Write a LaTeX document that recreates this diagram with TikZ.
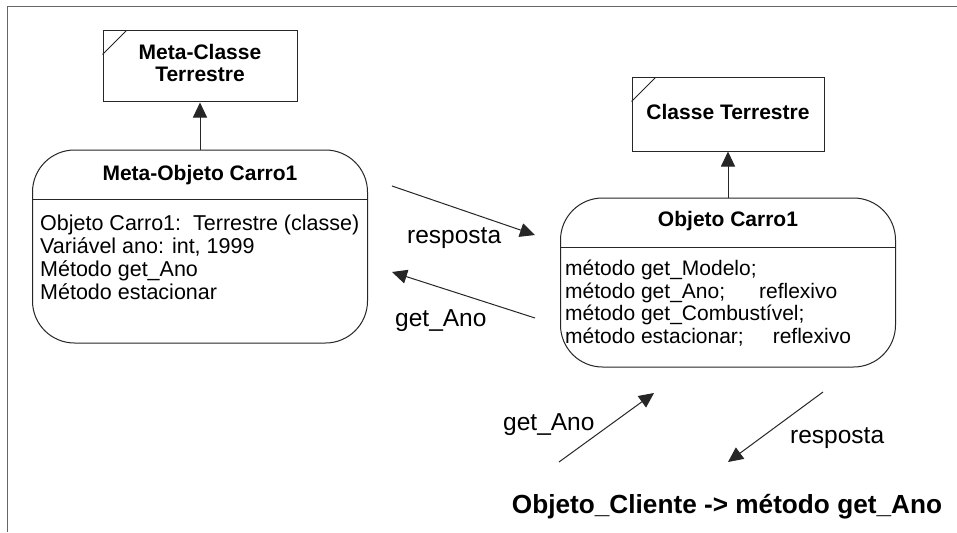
\documentclass[tikz,border=0pt]{standalone}
\usepackage{fontspec}
\setmainfont{Liberation Sans}
\usetikzlibrary{arrows.meta}

\begin{document}
\begin{tikzpicture}[x=1pt,y=-1pt,
  line/.style={draw=black!85, line width=1pt},
  classbox/.style={line, rectangle, inner sep=0pt},
  objbox/.style={line, rectangle, rounded corners=42pt, inner sep=0pt},
  tip/.style={line, -{Triangle[length=15pt,width=14pt]}},
  body/.style={font=\fontsize{21.5}{23}\selectfont, anchor=base west, inner sep=0pt},
  rbody/.style={font=\fontsize{21}{23}\selectfont, anchor=base west, inner sep=0pt},
  title/.style={font=\bfseries\fontsize{21}{23}\selectfont, anchor=base, inner sep=0pt},
  lbl/.style={font=\fontsize{24.5}{27}\selectfont, anchor=base west, inner sep=0pt},
  big/.style={font=\bfseries\fontsize{26.2}{30}\selectfont, anchor=base, inner sep=0pt},
]
\useasboundingbox (0,0) rectangle (957,532);
\fill[white] (0,0) rectangle (957,532);

% outer frame
\draw[draw=black!60, line width=1.5pt] (7.5,532) -- (7.5,6.5) -- (957,6.5);

% class boxes
\node[classbox, minimum width=194pt, minimum height=71pt] (metaclasse) at (200,66.5) {};
\draw[line] ([yshift=-24pt]metaclasse.north west) -- ([xshift=24pt]metaclasse.north west);
\node[title] (mct1) at (200,60) {Meta-Classe};
\node[title] (mct2) at (200,82) {Terrestre};

\node[classbox, minimum width=192pt, minimum height=73pt] (classe) at (728,114.5) {};
\draw[line] ([yshift=-24pt]classe.north west) -- ([xshift=24pt]classe.north west);
\node[title] (ct) at (728,120) {Classe Terrestre};

% object boxes
\node[objbox, minimum width=335pt, minimum height=193pt] (metaobj) at (200,246.5) {};
\draw[line] (metaobj.west |- 0,199) -- (metaobj.east |- 0,199);
\node[title] (mot) at (200,180) {Meta-Objeto Carro1};
\node[body] (mo1) at (40,230) {Objeto Carro1:\ \ Terrestre (classe)};
\node[body] (mo2) at (40,253) {Variável ano: int, 1999};
\node[body] (mo3) at (40,276) {Método get\_Ano};
\node[body] (mo4) at (40,299) {Método estacionar};

\node[objbox, minimum width=335pt, minimum height=169pt] (obj) at (728,282.5) {};
\draw[line] (obj.west |- 0,247) -- (obj.east |- 0,247);
\node[title] (ot) at (728,226) {Objeto Carro1};
\node[rbody] (o1) at (565,275) {método get\_Modelo;};
\node[rbody] (o2) at (565,298) {método get\_Ano;\hspace{34pt}reflexivo};
\node[rbody] (o3) at (565,320) {método get\_Combustível;};
\node[rbody] (o4) at (565,343) {método estacionar;\hspace{29pt}reflexivo};

% inheritance arrows
\draw[tip] (metaobj.north -| metaclasse.south) -- (metaclasse.south);
\draw[tip] (obj.north) -- (classe.south);

% messages between the objects
\coordinate (r1s) at (392,186);
\coordinate (r1e) at (535,235);
\coordinate (g1s) at (535,318);
\coordinate (g1e) at (392,272);
\draw[tip] (r1s) -- (r1e);
\draw[tip] (g1s) -- (g1e);
\node[lbl] (r1l) at (407,243) {resposta};
\node[lbl] (g1l) at (395,326) {get\_Ano};

% messages with the client
\coordinate (g2s) at (559,462);
\coordinate (g2e) at (654,393);
\coordinate (r2s) at (823,392);
\coordinate (r2e) at (728,462);
\draw[tip] (g2s) -- (g2e);
\draw[tip] (r2s) -- (r2e);
\node[lbl] (g2l) at (503,430) {get\_Ano};
\node[lbl] (r2l) at (790,443) {resposta};

\node[big] (client) at (727,513) {Objeto\_Cliente -> método get\_Ano};
\end{tikzpicture}
\end{document}
